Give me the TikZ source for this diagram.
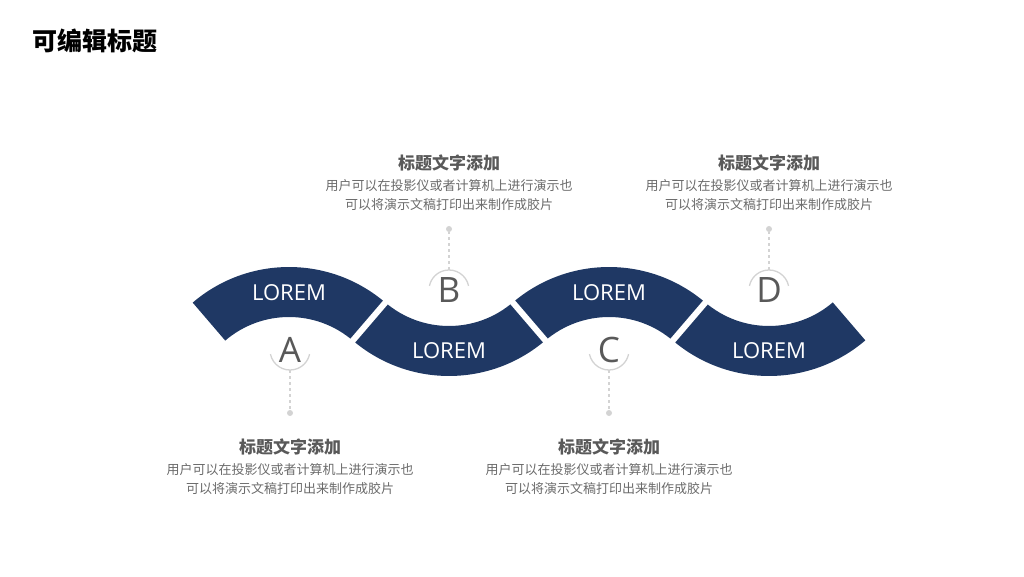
\documentclass[tikz,border=0pt]{standalone}
\usepackage{fontspec}
\setmainfont{Open Sans}
\newfontfamily\cjk{Noto Sans CJK SC}
\definecolor{navy}{HTML}{1F3864}
\definecolor{txtgray}{HTML}{595959}
\definecolor{descgray}{HTML}{6B6B6B}
\definecolor{linegray}{HTML}{D3D3D3}

\begin{document}
\begin{tikzpicture}[x=1pt, y=1pt,
    band/.style={fill=navy},
    gap/.style={draw=white, line width=6pt},
    lorem/.style={text=white, font=\fontsize{22}{22}\selectfont},
    letter/.style={text=txtgray, font=\fontsize{35}{35}\selectfont},
    head/.style={text=txtgray, font=\cjk\bfseries\fontsize{17}{17}\selectfont},
    desc/.style={text=descgray, align=center, font=\cjk\fontsize{13}{18.5}\selectfont},
    ring/.style={draw=linegray, line width=1.3pt},
    lead/.style={draw=linegray, dashed, line width=1.3pt},
    dot/.style={circle, fill=linegray, inner sep=0pt, minimum size=6pt}]
    \useasboundingbox (0,0) rectangle (1024,576);
    \node[anchor=west, font=\cjk\bfseries\fontsize{25}{25}\selectfont] (title) at (29,535) {可编辑标题};
    % wave
    \fill[band] (289,161) ++(130.6:148) arc[start angle=130.6, end angle=49.4, radius=148]
        -- ([shift={(289,161)}]49.4:98) arc[start angle=49.4, end angle=130.6, radius=98] -- cycle;
    \fill[band] (449,348) ++(229.4:148) arc[start angle=229.4, end angle=310.6, radius=148]
        -- ([shift={(449,348)}]310.6:98) arc[start angle=310.6, end angle=229.4, radius=98] -- cycle;
    \fill[band] (609,161) ++(130.6:148) arc[start angle=130.6, end angle=49.4, radius=148]
        -- ([shift={(609,161)}]49.4:98) arc[start angle=49.4, end angle=130.6, radius=98] -- cycle;
    \fill[band] (769,348) ++(229.4:148) arc[start angle=229.4, end angle=310.6, radius=148]
        -- ([shift={(769,348)}]310.6:98) arc[start angle=310.6, end angle=229.4, radius=98] -- cycle;
    \draw[gap] ([shift={(289,161)}]49.4:94) -- ([shift={(289,161)}]49.4:152);
    \draw[gap] ([shift={(449,348)}]310.6:94) -- ([shift={(449,348)}]310.6:152);
    \draw[gap] ([shift={(609,161)}]49.4:94) -- ([shift={(609,161)}]49.4:152);
    \path (289,283) node[lorem] (lorem1) {LOREM}
        (449,225) node[lorem] (lorem2) {LOREM}
        (609,283) node[lorem] (lorem3) {LOREM}
        (769,225) node[lorem] (lorem4) {LOREM};
    % letters
    \path (290,226) coordinate (cA) node[letter] (letA) {A}
        (449,286) coordinate (cB) node[letter] (letB) {B}
        (609,226) coordinate (cC) node[letter] (letC) {C}
        (769,286) coordinate (cD) node[letter] (letD) {D};
    \draw[ring] ([shift={(cA)}]192:20) arc[start angle=192, end angle=348, radius=20];
    \draw[ring] ([shift={(cB)}]12:20) arc[start angle=12, end angle=168, radius=20];
    \draw[ring] ([shift={(cC)}]192:20) arc[start angle=192, end angle=348, radius=20];
    \draw[ring] ([shift={(cD)}]12:20) arc[start angle=12, end angle=168, radius=20];
    \path ([shift={(cA)}]270:20) coordinate (tipA) (290,163) node[dot] (dotA) {}
        ([shift={(cB)}]90:20) coordinate (tipB) (449,347) node[dot] (dotB) {}
        ([shift={(cC)}]270:20) coordinate (tipC) (609,163) node[dot] (dotC) {}
        ([shift={(cD)}]90:20) coordinate (tipD) (769,347) node[dot] (dotD) {};
    \draw[lead] (tipA) -- (dotA) (tipB) -- (dotB) (tipC) -- (dotC) (tipD) -- (dotD);
    % texts
    \path (290,129) node[head] (headA) {标题文字添加}
        (290,97) node[desc] (descA) {用户可以在投影仪或者计算机上进行演示也\\可以将演示文稿打印出来制作成胶片}
        (449,413) node[head] (headB) {标题文字添加}
        (449,381) node[desc] (descB) {用户可以在投影仪或者计算机上进行演示也\\可以将演示文稿打印出来制作成胶片}
        (609,129) node[head] (headC) {标题文字添加}
        (609,97) node[desc] (descC) {用户可以在投影仪或者计算机上进行演示也\\可以将演示文稿打印出来制作成胶片}
        (769,413) node[head] (headD) {标题文字添加}
        (769,381) node[desc] (descD) {用户可以在投影仪或者计算机上进行演示也\\可以将演示文稿打印出来制作成胶片};
\end{tikzpicture}
\end{document}
